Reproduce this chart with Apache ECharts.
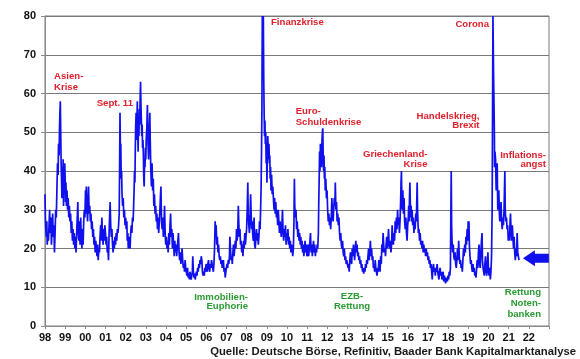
<!DOCTYPE html>
<html>
<head>
<meta charset="utf-8">
<script src="https://cdn.jsdelivr.net/npm/echarts@6/dist/echarts.min.js"></script>
<style>
html,body{margin:0;padding:0;background:#fff;}
#chart{width:580px;height:359px;}
</style>
</head>
<body>
<div id="chart"></div>
<script>
// ---- Data (decimal year, index level) ----
const tickLabels = ['98','99','00','01','02','03','04','05','06','07','08','09','10','11','12','13','14','15','16','17','18','19','20','21','22'];

const vdax1998_2002 = [
[1998.00,34],[1998.02,28],[1998.04,25],[1998.07,23],[1998.09,27],[1998.11,21],[1998.14,24],[1998.17,22],[1998.20,26],[1998.23,30],
[1998.26,24],[1998.29,28],[1998.32,21],[1998.35,25],[1998.38,29],[1998.41,23],[1998.44,26],[1998.47,19],[1998.50,24],[1998.53,30],
[1998.56,28],[1998.59,35],[1998.62,42],[1998.65,39],[1998.67,47],[1998.70,44],[1998.72,51],[1998.74,55],[1998.76,58],[1998.78,50],
[1998.80,42],[1998.82,38],[1998.84,33],[1998.86,41],[1998.88,36],[1998.90,43],[1998.92,31],[1998.94,40],[1998.96,35],[1998.98,42],
[1999.00,38],[1999.02,32],[1999.04,37],[1999.06,31],[1999.09,35],[1999.12,30],[1999.15,33],[1999.18,28],[1999.21,31],[1999.24,27],
[1999.27,29],[1999.30,24],[1999.33,27],[1999.36,22],[1999.39,25],[1999.42,21],[1999.45,24],[1999.48,20],[1999.51,23],[1999.54,19],
[1999.57,24],[1999.60,28],[1999.63,32],[1999.65,24],[1999.68,22],[1999.71,27],[1999.74,21],[1999.77,28],[1999.80,23],[1999.83,20],
[1999.86,25],[1999.89,21],[1999.92,27],[1999.95,30],[1999.98,28],
[2000.01,35],[2000.03,29],[2000.05,36],[2000.08,31],[2000.11,27],[2000.14,32],[2000.16,36],[2000.19,29],[2000.22,31],[2000.25,27],
[2000.28,29],[2000.31,25],[2000.34,27],[2000.37,23],[2000.40,25],[2000.43,21],[2000.46,23],[2000.49,19],[2000.52,22],[2000.55,20],
[2000.58,18],[2000.61,21],[2000.64,17],[2000.67,20],[2000.70,19],[2000.73,23],[2000.76,26],[2000.79,22],[2000.82,28],[2000.85,24],
[2000.88,21],[2000.91,25],[2000.94,22],[2000.97,26],
[2001.00,24],[2001.03,21],[2001.06,23],[2001.09,19],[2001.12,20],[2001.15,17],[2001.18,24],[2001.21,29],[2001.23,32],[2001.26,26],
[2001.29,23],[2001.32,25],[2001.35,21],[2001.38,19],[2001.41,22],[2001.44,20],[2001.47,23],[2001.50,21],[2001.53,24],[2001.56,22],
[2001.59,25],[2001.62,24],[2001.65,26],[2001.68,29],[2001.70,40],[2001.72,55],[2001.74,45],[2001.76,47],[2001.78,38],[2001.80,40],
[2001.82,34],[2001.85,31],[2001.88,33],[2001.91,28],[2001.94,30],[2001.97,26],
[2002.00,28],[2002.03,25],[2002.06,27],[2002.08,22],[2002.11,24],[2002.13,20],[2002.16,23],[2002.19,21],[2002.22,20],[2002.25,24],
[2002.28,26],[2002.31,24],[2002.34,28],[2002.37,27],[2002.39,30],[2002.42,35],[2002.44,40],[2002.46,37],[2002.48,46],[2002.50,52],
[2002.52,55],[2002.54,48],[2002.56,53],[2002.58,58],[2002.60,50],[2002.62,45],[2002.64,54],[2002.66,49],[2002.68,56],[2002.70,52],
[2002.72,59],[2002.74,63],[2002.76,57],[2002.78,53],[2002.80,49],[2002.82,52],[2002.84,46],[2002.86,48],[2002.88,44],[2002.90,38],
[2002.92,36],[2002.94,43],[2002.96,41],[2002.98,46]
];

const vdax2003_2007 = [
[2003.00,43],[2003.02,48],[2003.05,51],[2003.08,57],[2003.11,47],[2003.14,43],[2003.17,50],[2003.20,55],[2003.22,48],[2003.25,40],
[2003.28,36],[2003.31,42],[2003.34,35],[2003.37,38],[2003.40,31],[2003.43,34],[2003.46,29],[2003.49,31],[2003.52,27],[2003.55,29],
[2003.58,25],[2003.61,28],[2003.64,24],[2003.67,27],[2003.70,30],[2003.73,34],[2003.75,36],[2003.78,27],[2003.81,25],[2003.84,28],
[2003.87,23],[2003.90,26],[2003.93,31],[2003.96,24],[2003.99,21],
[2004.02,23],[2004.05,20],[2004.08,22],[2004.11,19],[2004.14,24],[2004.17,21],[2004.20,26],[2004.23,29],[2004.26,23],[2004.29,25],
[2004.32,20],[2004.35,24],[2004.38,21],[2004.41,18],[2004.44,22],[2004.47,19],[2004.50,21],[2004.53,18],[2004.56,20],[2004.59,22],
[2004.62,24],[2004.65,19],[2004.68,17],[2004.71,19],[2004.74,16],[2004.77,18],[2004.80,20],[2004.83,17],[2004.86,15],[2004.89,16],
[2004.92,14],[2004.95,17],[2004.98,15],
[2005.01,14],[2005.04,13],[2005.07,15],[2005.10,12.5],[2005.13,13.5],[2005.16,12],[2005.19,14],[2005.22,13],[2005.25,12],[2005.28,11.5],
[2005.31,14],[2005.33,18],[2005.36,14],[2005.39,12.5],[2005.42,13.5],[2005.45,12],[2005.48,13],[2005.51,14],[2005.54,13],[2005.57,15],
[2005.60,14],[2005.63,16],[2005.66,15],[2005.69,17],[2005.72,16],[2005.75,18],[2005.78,17],[2005.81,14],[2005.84,13],[2005.87,14],
[2005.90,13],[2005.93,15],[2005.96,14],[2005.99,16],
[2006.02,15],[2006.05,14],[2006.08,16],[2006.11,17],[2006.14,15],[2006.17,14],[2006.20,16],[2006.23,15],[2006.26,17],[2006.29,16],
[2006.32,15],[2006.35,14],[2006.38,16],[2006.41,20],[2006.44,27],[2006.46,24],[2006.49,26],[2006.52,21],[2006.55,23],[2006.58,19],
[2006.61,21],[2006.64,18],[2006.67,17],[2006.70,18],[2006.73,16],[2006.76,17],[2006.79,15],[2006.82,16],[2006.85,17],[2006.88,14],
[2006.91,15],[2006.94,12.5],[2006.97,14],
[2007.00,14],[2007.03,16],[2007.06,15],[2007.09,17],[2007.12,16],[2007.15,18],[2007.17,23],[2007.20,20],[2007.23,17],[2007.26,18],
[2007.29,16],[2007.32,19],[2007.35,21],[2007.38,18],[2007.41,20],[2007.44,22],[2007.47,20],[2007.50,25],[2007.53,22],[2007.56,24],
[2007.59,31],[2007.61,27],[2007.64,23],[2007.67,25],[2007.70,21],[2007.73,22],[2007.76,19],[2007.79,21],[2007.82,18],[2007.85,22],
[2007.88,20],[2007.91,24],[2007.94,21],[2007.97,23]
];

const vdax2008_2012 = [
[2008.00,25],[2008.03,30],[2008.06,37],[2008.08,29],[2008.11,26],[2008.14,24],[2008.17,28],[2008.20,34],[2008.22,30],[2008.25,25],
[2008.28,27],[2008.31,23],[2008.34,22],[2008.37,28],[2008.40,21],[2008.43,20],[2008.46,23],[2008.49,25],[2008.52,22],[2008.55,24],
[2008.58,21],[2008.61,23],[2008.64,27],[2008.67,25],[2008.70,31],[2008.72,36],[2008.74,45],[2008.76,56],[2008.77,70],[2008.78,80],
[2008.80,80],[2008.81,72],[2008.83,80],[2008.85,64],[2008.87,55],[2008.89,49],[2008.91,53],[2008.93,47],[2008.95,50],[2008.97,42],
[2008.99,45],
[2009.01,37],[2009.03,44],[2009.05,49],[2009.07,46],[2009.09,43],[2009.11,47],[2009.13,42],[2009.15,44],[2009.17,38],[2009.19,41],
[2009.21,35],[2009.24,39],[2009.27,34],[2009.30,36],[2009.33,33],[2009.36,30],[2009.39,33],[2009.42,29],[2009.45,32],[2009.48,28],
[2009.51,30],[2009.54,26],[2009.57,30],[2009.60,27],[2009.63,24],[2009.66,27],[2009.69,25],[2009.72,23],[2009.75,26],[2009.78,30],
[2009.81,24],[2009.84,22],[2009.87,25],[2009.90,23],[2009.93,26],[2009.96,21],[2009.99,24],
[2010.02,22],[2010.05,25],[2010.08,21],[2010.11,23],[2010.14,20],[2010.17,22],[2010.20,19],[2010.23,21],[2010.26,20],[2010.29,18],
[2010.32,20],[2010.35,27],[2010.37,38],[2010.39,31],[2010.42,28],[2010.45,30],[2010.48,25],[2010.51,27],[2010.54,23],[2010.57,25],
[2010.60,22],[2010.63,24],[2010.66,21],[2010.69,23],[2010.72,20],[2010.75,22],[2010.78,19],[2010.81,21],[2010.84,18],[2010.87,20],
[2010.90,22],[2010.93,19],[2010.96,21],[2010.99,18],
[2011.02,19],[2011.05,21],[2011.08,18],[2011.11,20],[2011.14,22],[2011.17,24],[2011.20,19],[2011.23,21],[2011.26,18],[2011.29,20],
[2011.32,22],[2011.35,19],[2011.38,21],[2011.41,18],[2011.44,20],[2011.47,19],[2011.50,21],[2011.53,20],[2011.56,24],[2011.58,32],
[2011.60,38],[2011.62,45],[2011.64,40],[2011.66,47],[2011.68,43],[2011.70,45],[2011.72,41],[2011.74,48],[2011.76,50],[2011.78,51],
[2011.80,44],[2011.82,40],[2011.84,44],[2011.86,38],[2011.88,41],[2011.90,35],[2011.93,38],[2011.96,33],[2011.99,35],
[2012.02,30],[2012.05,27],[2012.08,29],[2012.11,26],[2012.14,28],[2012.17,25],[2012.20,28],[2012.23,33],[2012.26,29],[2012.29,27],
[2012.32,30],[2012.35,33],[2012.38,31],[2012.40,37],[2012.43,30],[2012.46,32],[2012.49,27],[2012.52,29],[2012.55,26],[2012.58,28],
[2012.61,24],[2012.64,22],[2012.67,24],[2012.70,21],[2012.73,20],[2012.76,22],[2012.79,19],[2012.82,18],[2012.85,20],[2012.88,17],
[2012.91,18],[2012.94,16],[2012.97,17]
];

const vdax2013_2017 = [
[2013.00,17],[2013.03,15],[2013.06,16],[2013.09,14],[2013.12,17],[2013.15,19],[2013.18,17],[2013.21,16],[2013.24,20],[2013.27,18],
[2013.30,21],[2013.33,19],[2013.36,17],[2013.39,20],[2013.42,22],[2013.45,19],[2013.48,21],[2013.51,18],[2013.54,19],[2013.57,17],
[2013.60,18],[2013.63,16],[2013.66,17],[2013.69,15],[2013.72,16],[2013.75,14],[2013.78,15],[2013.81,13.5],[2013.84,15],[2013.87,14],
[2013.90,16],[2013.93,15],[2013.96,17],[2013.99,16],
[2014.02,18],[2014.05,20],[2014.08,17],[2014.11,19],[2014.14,22],[2014.17,18],[2014.20,20],[2014.23,17],[2014.26,18],[2014.29,15],
[2014.32,16],[2014.35,14],[2014.38,17],[2014.41,15],[2014.44,14],[2014.47,13],[2014.50,15],[2014.53,14],[2014.56,17],[2014.59,16],
[2014.62,14],[2014.65,18],[2014.68,16],[2014.71,21],[2014.74,19],[2014.77,24],[2014.80,21],[2014.83,19],[2014.86,20],[2014.89,18],
[2014.92,21],[2014.95,23],[2014.98,20],
[2015.01,22],[2015.04,25],[2015.07,21],[2015.10,20],[2015.13,22],[2015.16,19],[2015.19,21],[2015.22,26],[2015.25,23],[2015.28,21],
[2015.31,24],[2015.34,22],[2015.37,27],[2015.40,24],[2015.43,28],[2015.46,25],[2015.49,30],[2015.52,26],[2015.55,28],[2015.58,24],
[2015.61,27],[2015.64,32],[2015.66,37],[2015.68,40],[2015.70,33],[2015.72,30],[2015.75,35],[2015.78,29],[2015.81,33],[2015.84,27],
[2015.87,25],[2015.90,28],[2015.93,24],[2015.96,22],[2015.99,26],
[2016.02,28],[2016.04,31],[2016.06,27],[2016.08,33],[2016.10,37],[2016.12,32],[2016.14,28],[2016.16,31],[2016.18,27],[2016.21,30],
[2016.24,26],[2016.27,28],[2016.30,24],[2016.33,27],[2016.36,25],[2016.39,29],[2016.42,27],[2016.44,32],[2016.46,37],[2016.48,30],
[2016.50,27],[2016.52,24],[2016.55,25],[2016.58,22],[2016.61,24],[2016.64,21],[2016.67,22],[2016.70,20],[2016.73,22],[2016.76,19],
[2016.79,21],[2016.82,19],[2016.85,20],[2016.88,18],[2016.91,20],[2016.94,18],[2016.97,19],
[2017.00,17],[2017.03,18],[2017.06,16],[2017.09,17],[2017.12,15],[2017.15,16],[2017.18,14],[2017.21,12],[2017.24,15],[2017.27,16],
[2017.30,14],[2017.33,15],[2017.36,13],[2017.39,15],[2017.42,14],[2017.45,16],[2017.48,14],[2017.51,13],[2017.54,12],[2017.57,14],
[2017.60,15],[2017.63,13],[2017.66,14],[2017.69,12],[2017.72,13],[2017.75,14],[2017.78,11.5],[2017.81,13],[2017.84,12],[2017.87,11],
[2017.90,12.5],[2017.93,13],[2017.96,11.5],[2017.99,13]
];

const vdax2018_2021 = [
[2018.02,12],[2018.05,14],[2018.08,13],[2018.11,15],[2018.13,28],[2018.15,40],[2018.17,26],[2018.19,22],[2018.22,19],[2018.25,21],
[2018.28,18],[2018.31,17],[2018.34,19],[2018.37,16],[2018.40,15],[2018.43,17],[2018.46,20],[2018.49,17],[2018.52,22],[2018.55,18],
[2018.58,16],[2018.61,17],[2018.64,15],[2018.67,16],[2018.70,14],[2018.73,17],[2018.76,20],[2018.79,18],[2018.82,21],[2018.85,19],
[2018.88,23],[2018.91,21],[2018.94,25],[2018.97,22],[2018.99,27],
[2019.01,24],[2019.03,27],[2019.05,21],[2019.08,18],[2019.11,16],[2019.14,17],[2019.17,15],[2019.20,14],[2019.23,16],[2019.26,14],
[2019.29,15],[2019.32,13],[2019.35,14],[2019.38,12.5],[2019.41,15],[2019.44,17],[2019.47,15],[2019.50,19],[2019.53,21],[2019.56,16],
[2019.59,15],[2019.62,19],[2019.65,22],[2019.68,24],[2019.70,17],[2019.73,15],[2019.76,14],[2019.79,13],[2019.82,16],[2019.85,18],
[2019.88,14],[2019.91,13],[2019.94,16],[2019.97,19],
[2020.00,14],[2020.03,13],[2020.06,15],[2020.09,12],[2020.12,14],[2020.15,18],[2020.18,30],[2020.20,55],[2020.22,80],[2020.24,80],
[2020.25,65],[2020.27,58],[2020.29,50],[2020.30,41],[2020.32,45],[2020.35,43],[2020.38,35],[2020.41,38],[2020.43,42],[2020.46,30],
[2020.49,33],[2020.51,35],[2020.54,29],[2020.56,27],[2020.59,30],[2020.62,32],[2020.65,27],[2020.68,25],[2020.71,28],[2020.74,26],
[2020.77,30],[2020.79,35],[2020.81,40],[2020.83,30],[2020.86,27],[2020.89,28],[2020.92,25],[2020.95,26],[2020.98,22],
[2021.01,24],[2021.04,22],[2021.07,27],[2021.09,29],[2021.12,24],[2021.15,22],[2021.18,26],[2021.21,23],[2021.24,20],[2021.27,23],
[2021.30,19],[2021.33,17],[2021.36,20],[2021.39,18],[2021.42,24],[2021.45,19],[2021.48,18],[2021.51,17]
];

const currentLevel = 17.5; // arrow marker level

const redNotes = ['Asien-\nKrise','Sept. 11','Finanzkrise','Euro-\nSchuldenkrise','Griechenland-\nKrise','Handelskrieg,\nBrexit','Corona','Inflations-\nangst'];
const greenNotes = ['Immobilien-\nEuphorie','EZB-\nRettung','Rettung\nNoten-\nbanken'];
const sourceText = 'Quelle: Deutsche Börse, Refinitiv, Baader Bank Kapitalmarktanalyse';

// ---- Chart ----
const FONT = '"Liberation Sans", Arial, Helvetica, sans-serif';
const RED = '#e0202c';
const GREEN = '#2a9a33';
const BLUE = '#1010ee';

const allData = [].concat(vdax1998_2002, vdax2003_2007, vdax2008_2012, vdax2013_2017, vdax2018_2021);

function note(text, x, y, align, color, lh) {
  return {
    type: 'text', x: x, y: y, z: 100,
    style: {
      text: text, align: align, verticalAlign: 'top',
      fontFamily: FONT, fontSize: 9.6, fontWeight: 'bold',
      fill: color, lineHeight: lh || 10.5
    }
  };
}

const chart = echarts.init(document.getElementById('chart'), null, {renderer: 'canvas'});
chart.setOption({
  animation: false,
  backgroundColor: '#ffffff',
  grid: {left: 45, right: 31, top: 16, bottom: 33, show: true, borderColor: '#7a7a7a', borderWidth: 1, backgroundColor: 'transparent'},
  xAxis: {
    type: 'value', min: 1998, max: 2023, interval: 1,
    axisLine: {show: true, lineStyle: {color: '#8a8a8a', width: 1}},
    axisTick: {show: true, length: 3, lineStyle: {color: '#8a8a8a'}},
    splitLine: {show: false},
    axisLabel: {
      margin: 6, fontFamily: FONT, fontSize: 11, fontWeight: 'bold', color: '#111',
      formatter: function (v) { const i = Math.round(v) - 1998; return tickLabels[i] !== undefined ? tickLabels[i] : ''; }
    }
  },
  yAxis: {
    type: 'value', min: 0, max: 80, interval: 10,
    axisLine: {show: true, lineStyle: {color: '#8a8a8a', width: 1}},
    axisTick: {show: true, length: 4, lineStyle: {color: '#8a8a8a'}},
    splitLine: {show: true, lineStyle: {color: '#7a7a7a', width: 1}},
    axisLabel: {margin: 9, fontFamily: FONT, fontSize: 11, fontWeight: 'bold', color: '#111'}
  },
  series: [{
    type: 'line', data: allData, showSymbol: false, clip: true,
    lineStyle: {color: BLUE, width: 1.7},
    itemStyle: {color: BLUE},
    markPoint: {
      silent: true,
      symbol: 'path://M0,8 L12,0 L12,3.5 L26,3.5 L26,12.5 L12,12.5 L12,16 Z',
      symbolSize: [26, 16], symbolKeepAspect: false,
      itemStyle: {color: BLUE},
      label: {show: false},
      data: [{coord: [2022.35, currentLevel]}]
    }
  }],
  graphic: [
    note(redNotes[0], 54, 71.5, 'left', RED, 10.6),
    note(redNotes[1], 96.7, 98.5, 'left', RED),
    note(redNotes[2], 271, 17.5, 'left', RED),
    note(redNotes[3], 295.7, 106.2, 'left', RED, 11),
    note(redNotes[4], 427.5, 149, 'right', RED, 10),
    note(redNotes[5], 479.5, 111, 'right', RED, 9.8),
    note(redNotes[6], 489, 19, 'right', RED),
    note(redNotes[7], 546, 150, 'right', RED, 9.8),
    note(greenNotes[0], 248, 292, 'right', GREEN, 9.8),
    note(greenNotes[1], 352, 292, 'center', GREEN, 9.6),
    note(greenNotes[2], 541, 287.3, 'right', GREEN, 10.8),
    {
      type: 'text', x: 576, y: 351.5, z: 100,
      style: {text: sourceText, align: 'right', verticalAlign: 'middle', fontFamily: FONT, fontSize: 11.3, fontWeight: 'bold', fill: '#1a1a1a'}
    }
  ]
});
</script>
</body>
</html>
